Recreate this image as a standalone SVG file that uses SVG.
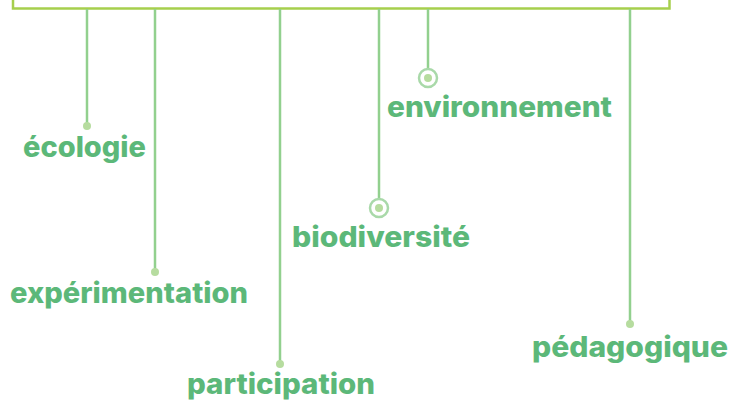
<svg xmlns="http://www.w3.org/2000/svg" width="733" height="403" viewBox="0 0 733 403">
<style>
.lbl{font-family:"Inter","Open Sans",sans-serif;font-weight:800;font-size:28px;fill:#5cb879}
.ln{stroke:#92d08e;stroke-width:2.5;fill:none}
.dot{fill:#b6dc9f}
.ring{fill:none;stroke:#a9d9a9;stroke-width:2.5}
</style>
<rect width="733" height="403" fill="#ffffff"/>
<g id="frame"><rect x="13" y="-20" width="656.5" height="28.5" fill="none" stroke="#a6cf4d" stroke-width="2.5"/></g>
<g id="connectors">
<line class="ln" x1="87" y1="9" x2="87" y2="126"/>
<line class="ln" x1="155" y1="9" x2="155" y2="272"/>
<line class="ln" x1="280" y1="9" x2="280" y2="364"/>
<line class="ln" x1="379" y1="9" x2="379" y2="199"/>
<line class="ln" x1="428" y1="9" x2="428" y2="69"/>
<line class="ln" x1="630" y1="9" x2="630" y2="324"/>
</g>
<g id="ecologie"><circle class="dot" cx="87" cy="126" r="4"/><text class="lbl" x="23" y="157" textLength="123" lengthAdjust="spacingAndGlyphs">écologie</text></g>
<g id="experimentation"><circle class="dot" cx="155" cy="272" r="4"/><text class="lbl" x="10" y="303" textLength="238" lengthAdjust="spacingAndGlyphs">expérimentation</text></g>
<g id="participation"><circle class="dot" cx="280" cy="364" r="4"/><text class="lbl" x="187" y="394" textLength="188" lengthAdjust="spacingAndGlyphs">participation</text></g>
<g id="biodiversite"><circle class="ring" cx="379" cy="208" r="9"/><circle class="dot" cx="379" cy="208" r="4"/><text class="lbl" x="292" y="247" textLength="178" lengthAdjust="spacingAndGlyphs">biodiversité</text></g>
<g id="environnement"><circle class="ring" cx="428" cy="78" r="9"/><circle class="dot" cx="428" cy="78" r="4"/><text class="lbl" x="387" y="117" textLength="225" lengthAdjust="spacingAndGlyphs">environnement</text></g>
<g id="pedagogique"><circle class="dot" cx="630" cy="324" r="4"/><text class="lbl" x="532" y="357" textLength="196" lengthAdjust="spacingAndGlyphs">pédagogique</text></g>
</svg>
